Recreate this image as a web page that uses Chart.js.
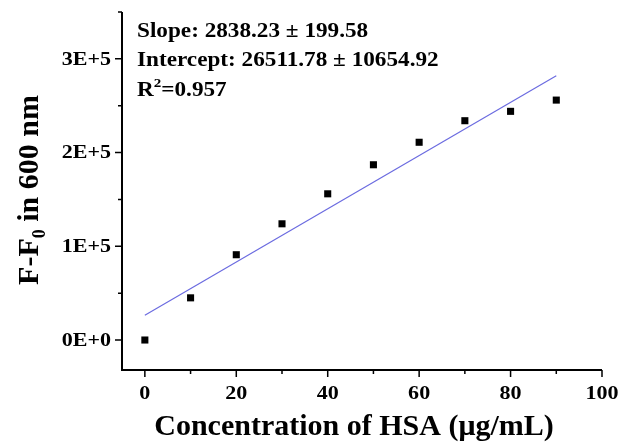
<!DOCTYPE html>
<html>
<head>
  <meta charset="utf-8" />
  <title>HSA calibration</title>
  <script src="https://cdn.jsdelivr.net/npm/chart.js"></script>
  <style>
    html, body { margin: 0; padding: 0; background: #fff; }
    #wrap { width: 619px; height: 444px; }
  </style>
</head>
<body>
  <div id="wrap"><canvas id="hsaChart"></canvas></div>

  <script>
    // measured points
    const concentrations = [0, 10, 20, 30, 40, 50, 60, 70, 80, 90];
    const fluorescence = [0, 45000, 91000, 124000, 156000, 187000, 211000, 234000, 244000, 256000];

    // linear fit results
    const slope = 2838.23;
    const slopeErr = 199.58;
    const intercept = 26511.78;
    const interceptErr = 10654.92;
    const rSquared = 0.957;
    const fitRange = [0, 90];

    const xMajorTicks = [0, 20, 40, 60, 80, 100];
    const xMinorTicks = [10, 30, 50, 70, 90];
    const yMajorTicks = [0, 100000, 200000, 300000];
    const yMinorTicks = [50000, 150000, 250000, 350000];
    const yTickLabels = ['0E+0', '1E+5', '2E+5', '3E+5'];

    const fitLine = fitRange.map(x => ({ x: x, y: intercept + slope * x }));
    const points = concentrations.map((x, i) => ({ x: x, y: fluorescence[i] }));

    const FONT = '"Liberation Serif", "Times New Roman", serif';
    const STRETCH = 1.16; // labels are set a bit wide

    // draw text squeezed/stretched horizontally around its anchor
    function wideText(ctx, text, x, y, align) {
      ctx.save();
      ctx.translate(x, y);
      ctx.scale(STRETCH, 1);
      ctx.textAlign = align;
      ctx.fillText(text, 0, 0);
      ctx.restore();
    }

    // axes, tick marks, labels and the fit annotation drawn by hand
    const framePlugin = {
      id: 'frame',
      afterDraw(chart) {
        const { ctx, chartArea: a, scales } = chart;
        const xs = scales.x, ys = scales.y;
        ctx.save();
        ctx.strokeStyle = '#000';
        ctx.fillStyle = '#000';
        ctx.lineWidth = 2;
        ctx.beginPath();
        ctx.moveTo(a.left, a.top);
        ctx.lineTo(a.left, a.bottom);
        ctx.lineTo(a.right, a.bottom);
        ctx.stroke();

        ctx.lineWidth = 1.5;
        ctx.beginPath();
        xMajorTicks.forEach(v => {
          const p = xs.getPixelForValue(v);
          ctx.moveTo(p, a.bottom); ctx.lineTo(p, a.bottom + 7);
        });
        xMinorTicks.forEach(v => {
          const p = xs.getPixelForValue(v);
          ctx.moveTo(p, a.bottom); ctx.lineTo(p, a.bottom + 4);
        });
        yMajorTicks.forEach(v => {
          const p = ys.getPixelForValue(v);
          ctx.moveTo(a.left, p); ctx.lineTo(a.left - 7, p);
        });
        yMinorTicks.forEach(v => {
          const p = ys.getPixelForValue(v);
          ctx.moveTo(a.left, p); ctx.lineTo(a.left - 4, p);
        });
        ctx.stroke();

        ctx.font = 'bold 19px ' + FONT;
        ctx.textBaseline = 'middle';
        xMajorTicks.forEach(v => {
          wideText(ctx, String(v), xs.getPixelForValue(v), a.bottom + 24, 'center');
        });
        yMajorTicks.forEach((v, i) => {
          wideText(ctx, yTickLabels[i], a.left - 11, ys.getPixelForValue(v) + 1, 'right');
        });

        // x title
        ctx.font = 'bold 30px ' + FONT;
        ctx.textAlign = 'center';
        ctx.textBaseline = 'alphabetic';
        ctx.fillText('Concentration of HSA (\u03bcg/mL)', 354, 435);

        // y title with subscript
        ctx.translate(38, 190);
        ctx.rotate(-Math.PI / 2);
        const big = 'bold 30px ' + FONT, small = 'bold 18px ' + FONT;
        const parts = [['F-F', big, 0], ['0', small, 7], [' in 600 nm', big, 0]];
        let total = 0;
        parts.forEach(p => { ctx.font = p[1]; total += ctx.measureText(p[0]).width; });
        let cx = -total / 2;
        ctx.textAlign = 'left';
        parts.forEach(p => {
          ctx.font = p[1];
          ctx.fillText(p[0], cx, p[2]);
          cx += ctx.measureText(p[0]).width;
        });
        ctx.restore();

        // fit annotation
        ctx.save();
        ctx.fillStyle = '#000';
        ctx.textBaseline = 'alphabetic';
        ctx.translate(137, 0);
        ctx.scale(STRETCH, 1);
        ctx.textAlign = 'left';
        ctx.font = 'bold 20px ' + FONT;
        ctx.fillText('Slope: ' + slope.toFixed(2) + ' \u00b1 ' + slopeErr.toFixed(2), 0, 37);
        ctx.fillText('Intercept: ' + intercept.toFixed(2) + ' \u00b1 ' + interceptErr.toFixed(2), 0, 66);
        ctx.fillText('R', 0, 96);
        let w = ctx.measureText('R').width;
        ctx.font = 'bold 13px ' + FONT;
        ctx.fillText('2', w, 87);
        w += ctx.measureText('2').width;
        ctx.font = 'bold 20px ' + FONT;
        ctx.fillText('=' + rSquared.toFixed(3), w, 96);
        ctx.restore();
      }
    };

    const ctx = document.getElementById('hsaChart').getContext('2d');
    new Chart(ctx, {
      type: 'scatter',
      data: {
        datasets: [
          {
            type: 'line',
            data: fitLine,
            borderColor: '#6b6be0',
            borderWidth: 1.2,
            pointRadius: 0,
            fill: false
          },
          {
            data: points,
            pointStyle: 'rect',
            pointRadius: 5,
            pointHoverRadius: 5,
            backgroundColor: '#000',
            borderColor: '#000',
            borderWidth: 0
          }
        ]
      },
      options: {
        responsive: true,
        maintainAspectRatio: false,
        animation: false,
        events: [],
        layout: { padding: { left: 0, right: 17, top: 12, bottom: 0 } },
        plugins: { legend: { display: false }, tooltip: { enabled: false } },
        scales: {
          x: {
            type: 'linear',
            min: -5,
            max: 100,
            grid: { display: false },
            border: { display: false },
            ticks: { display: false },
            afterFit: s => { s.height = 74; }
          },
          y: {
            type: 'linear',
            min: -32000,
            max: 350000,
            grid: { display: false },
            border: { display: false },
            ticks: { display: false },
            afterFit: s => { s.width = 122; }
          }
        }
      },
      plugins: [framePlugin]
    });
  </script>
</body>
</html>
